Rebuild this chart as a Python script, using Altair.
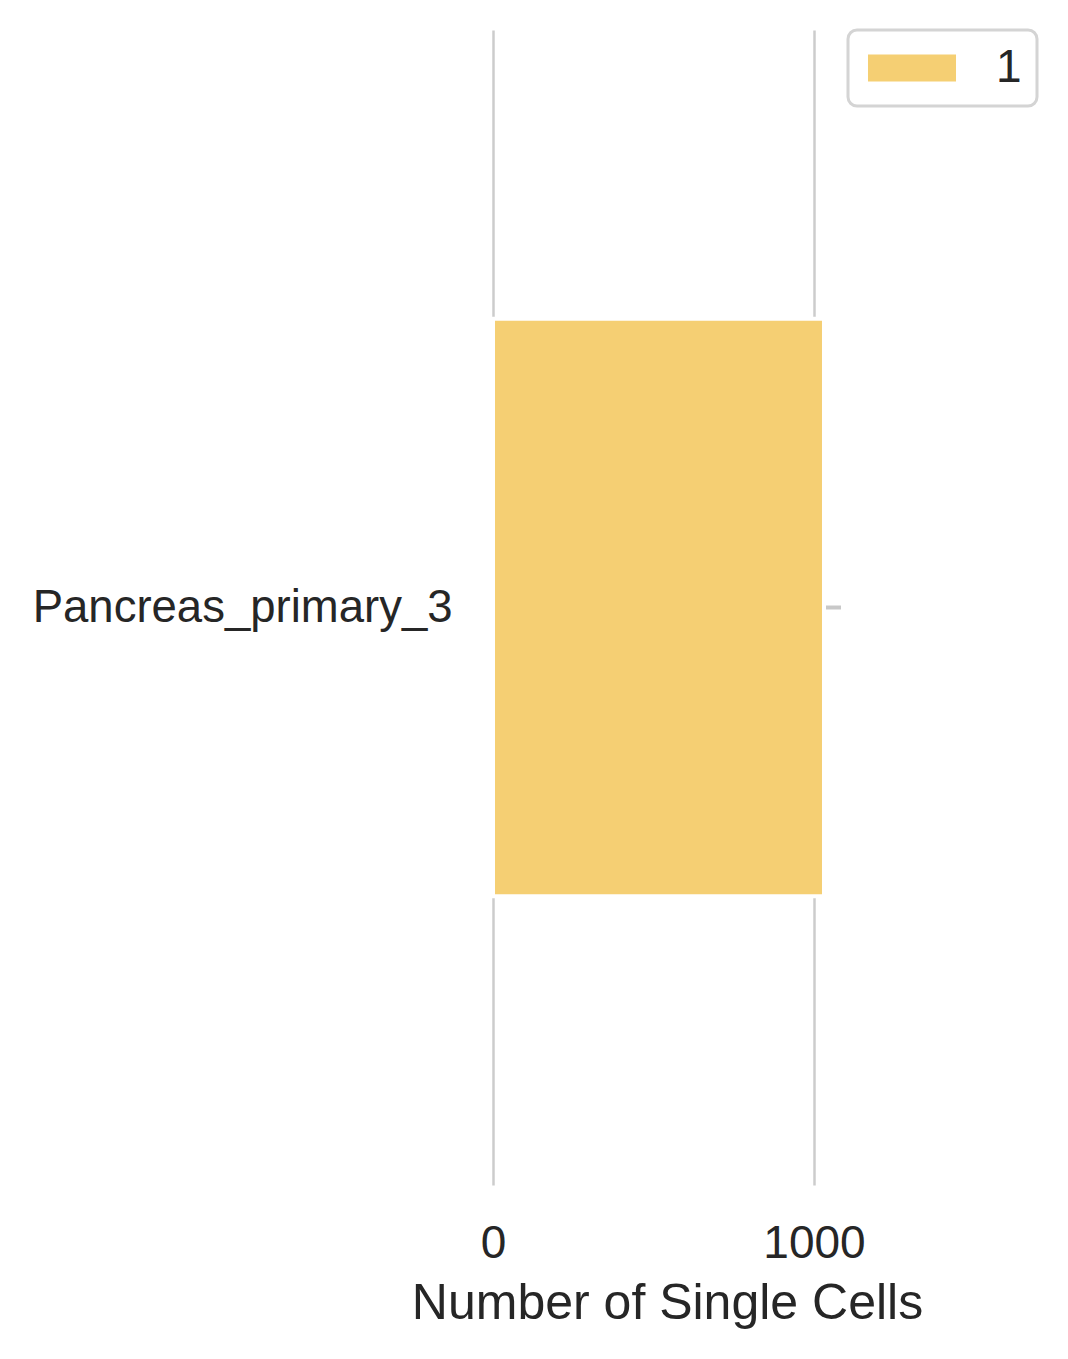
import altair as alt
import pandas as pd

samples = ["Pancreas_primary_3"]
groups = ["1"]
cell_counts = [1031]
err_low = [1031]
err_high = [1084]

df = pd.DataFrame({
    "sample": samples,
    "group": groups,
    "count": cell_counts,
    "lo": err_low,
    "hi": err_high,
})

FONT = "Liberation Sans"
TXT = "#262626"
BAR = "#F5CF73"

xscale = alt.Scale(domain=[0, 1084], nice=False, zero=True)
yscale = alt.Scale(domain=samples, paddingInner=0.5, paddingOuter=0.25)

err = alt.Chart(df).mark_rule(color="#c8c8c8", strokeWidth=4).encode(
    x=alt.X("lo:Q", scale=xscale),
    x2="hi:Q",
    y=alt.Y("sample:N", scale=yscale),
)

bars = alt.Chart(df).mark_bar(stroke="white", strokeWidth=4).encode(
    x=alt.X(
        "count:Q",
        scale=xscale,
        title="Number of Single Cells",
        axis=alt.Axis(
            values=[0, 1000],
            format="d",
            labelFlush=False,
            grid=True,
            gridColor="#cccccc",
            gridWidth=2.5,
            ticks=False,
            domain=False,
            labelFont=FONT,
            labelFontSize=46,
            labelColor=TXT,
            labelPadding=36,
            titleFont=FONT,
            titleFontSize=50,
            titleFontWeight="normal",
            titleColor=TXT,
            titlePadding=12,
        ),
    ),
    y=alt.Y(
        "sample:N",
        scale=yscale,
        title=None,
        axis=alt.Axis(
            ticks=False,
            domain=False,
            grid=False,
            labelFont=FONT,
            labelFontSize=45.5,
            labelColor=TXT,
            labelPadding=41,
            labelLimit=1000,
        ),
    ),
    color=alt.Color(
        "group:N",
        scale=alt.Scale(domain=groups, range=[BAR]),
        legend=alt.Legend(
            title=None,
            orient="none",
            legendX=355,
            legendY=0,
            symbolType="M-3.26,-1H3.26V1H-3.26Z",
            symbolSize=729,
            symbolOffset=26,
            symbolStrokeWidth=0,
            labelFont=FONT,
            labelFontSize=46,
            labelColor=TXT,
            labelOffset=61,
            padding=15,
            strokeColor="#d4d4d4",
            cornerRadius=9,
            fillColor="white",
        ),
    ),
)

chart = (
    alt.layer(err, bars)
    .properties(
        width=348,
        height=1155,
        padding={"left": 493, "top": 30, "right": 227, "bottom": 174},
        autosize=alt.AutoSizeParams(type="none"),
        background="white",
    )
    .configure_view(stroke=None)
    .configure_legend(strokeWidth=3)
)

chart.save("out.html", embed_options={"renderer": "svg", "actions": False})
